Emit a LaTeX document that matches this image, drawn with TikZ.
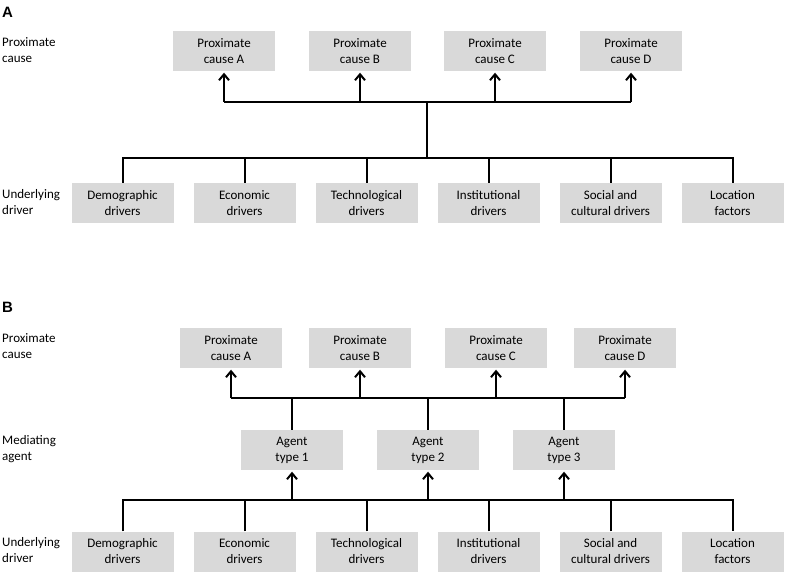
\documentclass[tikz,border=0pt]{standalone}
\usepackage{fontspec}
\setmainfont{Carlito}
\newfontfamily\headfont{Liberation Sans}
\usetikzlibrary{arrows.meta}
\definecolor{boxgray}{HTML}{D9D9D9}

\begin{document}
\begin{tikzpicture}[x=1pt,y=-1pt]
  \tikzset{font={\fontsize{13pt}{16pt}\selectfont},
    box/.style={fill=boxgray,minimum width=102pt,minimum height=40pt,
      align=center,inner sep=0pt},
    lbl/.style={anchor=west,align=left,inner sep=0pt},
    tag/.style={inner sep=0pt,font={\headfont\bfseries\fontsize{15pt}{18pt}\selectfont}},
    link/.style={line width=2pt},
    arr/.style={link,shorten >=1.5pt,-{Straight Barb[length=6pt,width=10pt]}}}
  \useasboundingbox (0,0) rectangle (793,583);

  % panel A
  \node[tag] (tagA) at (7.5,12) {A};
  \node[lbl] (lpA) at (2,50) {Proximate\\cause};
  \node[lbl] (ldA) at (2,202) {Underlying\\driver};
  \node[box] (pA1) at (224,51) {Proximate\\cause A};
  \node[box] (pA2) at (360,51) {Proximate\\cause B};
  \node[box] (pA3) at (495,51) {Proximate\\cause C};
  \node[box] (pA4) at (631,51) {Proximate\\cause D};
  \node[box] (dA1) at (122.5,203) {Demographic\\drivers};
  \node[box] (dA2) at (244.5,203) {Economic\\drivers};
  \node[box] (dA3) at (366.5,203) {Technological\\drivers};
  \node[box] (dA4) at (488.5,203) {Institutional\\drivers};
  \node[box] (dA5) at (610.5,203) {Social and\\cultural drivers};
  \node[box] (dA6) at (732.5,203) {Location\\factors};
  \coordinate (jA) at (427,158);
  \coordinate (kA) at (427,102);
  \draw[link] (dA1.north) |- (jA) -| (dA6.north);
  \foreach \i in {2,...,5}
    \draw[link] (dA\i.north) -- (dA\i.north |- jA);
  \draw[link] (jA) -- (kA);
  \draw[link] (pA1.south |- kA) -- (pA4.south |- kA);
  \foreach \i in {1,...,4}
    \draw[arr] (pA\i.south |- kA) -- (pA\i.south);

  % panel B
  \node[tag] (tagB) at (7.5,307) {B};
  \node[lbl] (lpB) at (2,346) {Proximate\\cause};
  \node[lbl] (lmB) at (2,449) {Mediating\\agent};
  \node[lbl] (ldB) at (2,550) {Underlying\\driver};
  \node[box] (pB1) at (231,348) {Proximate\\cause A};
  \node[box] (pB2) at (360,348) {Proximate\\cause B};
  \node[box] (pB3) at (496,348) {Proximate\\cause C};
  \node[box] (pB4) at (625,348) {Proximate\\cause D};
  \node[box] (aB1) at (292,450) {Agent\\type 1};
  \node[box] (aB2) at (428,450) {Agent\\type 2};
  \node[box] (aB3) at (564,450) {Agent\\type 3};
  \node[box] (dB1) at (122.5,551.5) {Demographic\\drivers};
  \node[box] (dB2) at (244.5,551.5) {Economic\\drivers};
  \node[box] (dB3) at (366.5,551.5) {Technological\\drivers};
  \node[box] (dB4) at (488.5,551.5) {Institutional\\drivers};
  \node[box] (dB5) at (610.5,551.5) {Social and\\cultural drivers};
  \node[box] (dB6) at (732.5,551.5) {Location\\factors};
  \coordinate (jB) at (428,500);
  \coordinate (kB) at (428,398);
  \draw[link] (dB1.north) |- (jB) -| (dB6.north);
  \foreach \i in {2,...,5}
    \draw[link] (dB\i.north) -- (dB\i.north |- jB);
  \draw[link] (pB1.south |- kB) -- (pB4.south |- kB);
  \foreach \i in {1,...,4}
    \draw[arr] (pB\i.south |- kB) -- (pB\i.south);
  \foreach \i in {1,...,3}{
    \draw[link] (aB\i.north) -- (aB\i.north |- kB);
    \draw[arr] (aB\i.south |- jB) -- (aB\i.south);
  }
\end{tikzpicture}
\end{document}
